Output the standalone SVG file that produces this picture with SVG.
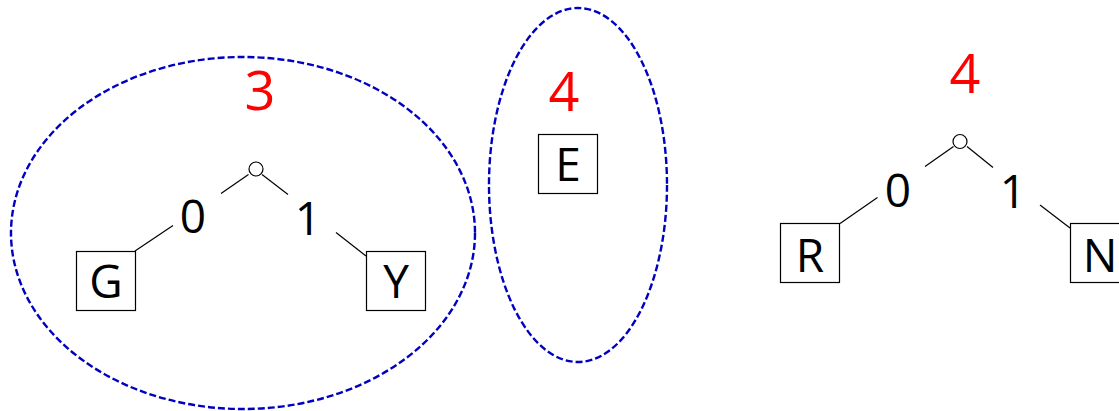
<svg xmlns="http://www.w3.org/2000/svg" width="1119" height="411" viewBox="0 0 1119 411">
<style>
.grp{fill:none;stroke:#0000C0;stroke-width:2.4;stroke-dasharray:7 3}
.box{fill:#fff;stroke:#000;stroke-width:1.2}
.edge{stroke:#000;stroke-width:1.2;fill:none}
.root{fill:#fff;stroke:#000;stroke-width:1.2}
.lbl{font-family:"Open Sans","Noto Sans",sans-serif;font-size:46px;fill:#000;text-anchor:middle}
.w{font-family:"Open Sans","Noto Sans",sans-serif;font-size:54px;fill:#FF0000;text-anchor:middle}
</style>
<g id="groups">
<ellipse class="grp" cx="243" cy="233" rx="232" ry="176"/>
<ellipse class="grp" cx="578" cy="185" rx="89" ry="177"/>
</g>
<g id="connectors">
<line class="edge" x1="248.5" y1="174.5" x2="221" y2="193.5"/>
<line class="edge" x1="262" y1="174.5" x2="288" y2="194.5"/>
<line class="edge" x1="173" y1="225.5" x2="135" y2="251"/>
<line class="edge" x1="336" y1="232.5" x2="366" y2="256"/>
<line class="edge" x1="953.5" y1="146.5" x2="925" y2="166.5"/>
<line class="edge" x1="967" y1="146.5" x2="993" y2="167.5"/>
<line class="edge" x1="877.5" y1="197.5" x2="840" y2="223.5"/>
<line class="edge" x1="1040" y1="205" x2="1070" y2="228"/>
</g>
<g id="tree1">
<text class="w" x="260" y="110">3</text>
<circle class="root" cx="256" cy="169" r="7"/>
<text class="lbl" x="193" y="233">0</text>
<text class="lbl" x="308" y="235">1</text>
</g>
<g id="node-G">
<rect class="box" x="76.5" y="251.5" width="59" height="59"/>
<text class="lbl" x="106" y="298">G</text>
</g>
<g id="node-Y">
<rect class="box" x="366.5" y="251.5" width="59" height="59"/>
<text class="lbl" x="396" y="298">Y</text>
</g>
<g id="tree2">
<text class="w" x="564" y="111">4</text>
</g>
<g id="node-E">
<rect class="box" x="538.5" y="134.5" width="59" height="59"/>
<text class="lbl" x="568" y="181">E</text>
</g>
<g id="tree3">
<text class="w" x="965" y="93">4</text>
<circle class="root" cx="960" cy="141.5" r="7"/>
<text class="lbl" x="898" y="206.5">0</text>
<text class="lbl" x="1013" y="208">1</text>
</g>
<g id="node-R">
<rect class="box" x="780.5" y="223.5" width="59" height="59"/>
<text class="lbl" x="810" y="271.5">R</text>
</g>
<g id="node-N">
<rect class="box" x="1070.5" y="223.5" width="59" height="59"/>
<text class="lbl" x="1100" y="271.5">N</text>
</g>
</svg>
